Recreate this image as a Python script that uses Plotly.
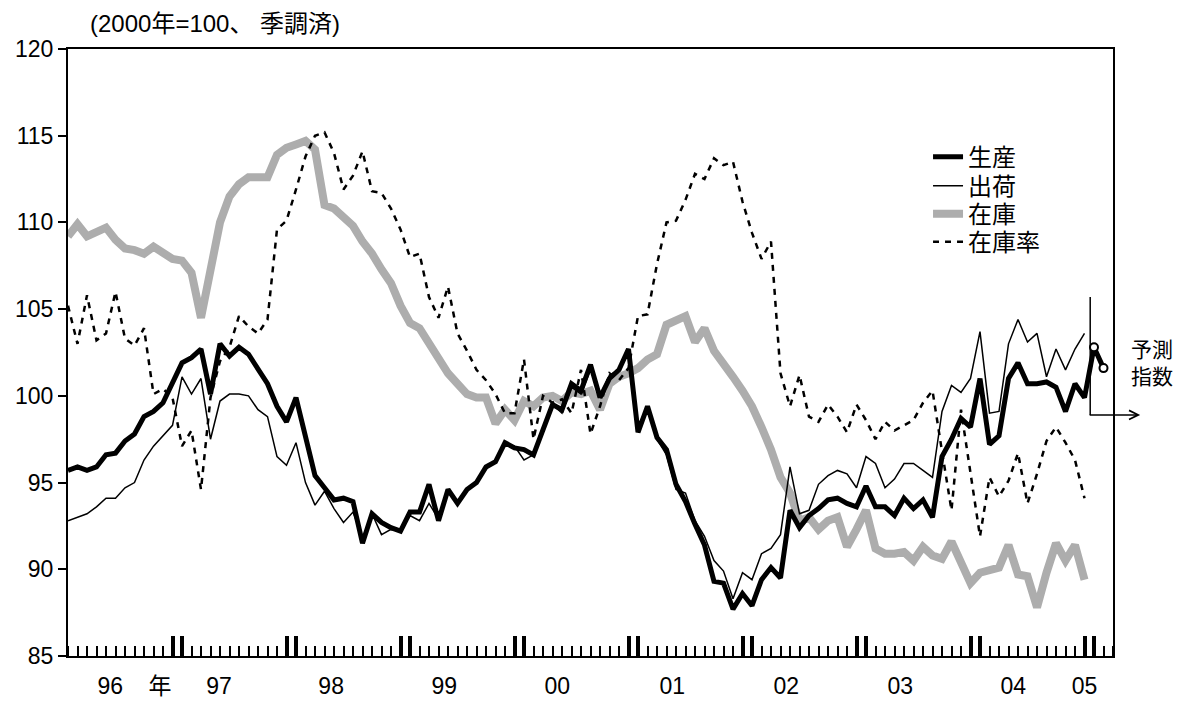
import plotly.graph_objects as go

# monthly series, Jan 1996 .. Dec 2004 (2000=100, seasonally adjusted)
production = [
    95.7, 95.9, 95.7, 95.9, 96.6, 96.7, 97.4, 97.8, 98.8, 99.1, 99.6, 100.7,
    101.9, 102.2, 102.7, 100.1, 103.0, 102.3, 102.8, 102.4, 101.6, 100.7, 99.4, 98.5,
    99.9, 97.6, 95.4, 94.7, 94.0, 94.1, 93.9, 91.5, 93.2, 92.7, 92.4, 92.2,
    93.3, 93.3, 94.9, 92.8, 94.6, 93.8, 94.6, 95.0, 95.9, 96.2, 97.3, 97.0,
    96.9, 96.6, 98.0, 99.5, 99.2, 100.7, 100.3, 101.8, 99.9, 101.0, 101.5, 102.7,
    97.9, 99.4, 97.6, 96.9, 94.9, 93.9, 92.6, 91.4, 89.3, 89.2, 87.7, 88.6,
    87.9, 89.4, 90.1, 89.5, 93.4, 92.4, 93.1, 93.5, 94.0, 94.1, 93.8, 93.6,
    94.8, 93.6, 93.6, 93.1, 94.1, 93.5, 94.0, 93.0, 96.5, 97.5, 98.7, 98.2,
    101.0, 97.2, 97.7, 101.0, 101.9, 100.7, 100.7, 100.8, 100.5, 99.1, 100.7, 99.9,
]
forecast = [102.8, 101.6]  # 予測指数 (Jan, Feb 2005)

shipments = [
    92.8, 93.0, 93.2, 93.6, 94.1, 94.1, 94.7, 95.0, 96.3, 97.1, 97.7, 98.3,
    101.1, 100.1, 101.0, 97.5, 99.7, 100.1, 100.1, 100.0, 99.2, 98.8, 96.5, 96.0,
    97.3, 95.0, 93.7, 94.5, 93.5, 92.7, 93.3, 91.8, 93.2, 92.0, 92.3, 92.2,
    93.1, 92.8, 93.8, 92.9, 94.4, 93.9, 94.6, 95.1, 95.8, 96.3, 97.3, 97.1,
    96.3, 96.6, 98.0, 99.5, 99.0, 100.5, 100.1, 101.5, 100.0, 101.2, 101.5, 102.7,
    98.3, 99.3, 97.5, 96.6, 94.6, 94.4, 92.8, 91.9, 90.5, 89.9, 88.3, 89.8,
    89.4, 90.9, 91.2, 92.0, 95.9, 93.2, 93.4, 94.9, 95.4, 95.7, 95.5, 94.7,
    96.5, 96.1, 94.7, 95.2, 96.1, 96.1, 95.7, 95.3, 99.1, 100.6, 100.2, 101.0,
    103.7, 99.0, 99.1, 103.0, 104.4, 103.1, 103.6, 101.1, 102.7, 101.5, 102.7, 103.6,
]

inventory = [
    109.2, 109.9, 109.2, 109.5, 109.7, 109.0, 108.5, 108.4, 108.2, 108.6, 108.2, 107.9,
    107.8, 107.1, 104.5, 107.3, 110.0, 111.5, 112.2, 112.6, 112.6, 112.6, 113.9, 114.3,
    114.5, 114.7, 114.2, 111.0, 110.8, 110.3, 109.8, 108.9, 108.2, 107.3, 106.5, 105.2,
    104.2, 103.9, 103.0, 102.0, 101.3, 100.7, 100.1, 99.9, 99.9, 98.4, 99.2, 98.6,
    99.7, 99.4, 99.9, 100.0, 99.7, 100.2, 100.1, 100.3, 99.2, 100.7, 101.1, 101.3,
    101.6, 102.1, 102.4, 104.1, 104.4, 104.6, 103.1, 103.9, 102.6, 101.9, 101.1, 100.3,
    99.4, 98.2, 96.9, 95.3, 94.4, 92.8, 93.0, 92.3, 92.8, 93.0, 91.3, 92.3,
    93.4, 91.2, 90.9, 90.9, 91.0, 90.5, 91.3, 90.8, 90.6, 91.6, 90.4, 89.2,
    89.8, 90.0, 90.1, 91.4, 89.7, 89.6, 87.8, 89.8, 91.5, 90.5, 91.4, 89.4,
]

inventory_ratio = [
    105.2, 103.0, 105.8, 103.2, 103.6, 106.0, 103.3, 102.9, 103.9, 100.1, 100.4, 99.9,
    97.1, 98.0, 94.6, 99.9, 102.0, 102.8, 104.6, 104.0, 103.6, 104.4, 109.6, 110.1,
    111.9, 113.8, 115.0, 115.2, 114.0, 111.9, 112.7, 114.1, 111.8, 111.7, 110.8, 109.6,
    108.0, 108.2, 105.7, 104.5, 106.3, 103.6, 102.6, 101.5, 100.9, 100.1, 99.0, 99.0,
    102.1, 97.5, 100.0, 99.6, 99.8, 99.0, 101.5, 97.8, 99.4, 101.3, 100.9, 101.6,
    104.6, 104.7, 107.6, 110.0, 110.1, 111.3, 112.8, 112.5, 113.7, 113.3, 113.5, 111.2,
    109.4, 107.9, 108.9, 101.3, 99.4, 101.2, 98.8, 98.5, 99.5, 98.8, 97.9, 99.5,
    98.6, 97.5, 98.5, 98.0, 98.3, 98.6, 99.6, 100.3, 96.8, 93.4, 99.2, 95.4,
    91.9, 95.3, 94.2, 95.1, 96.7, 93.8, 95.5, 97.4, 98.2, 97.3, 96.3, 94.1,
]

months = list(range(len(production)))            # 0 = Jan 1996
forecast_months = [len(production), len(production) + 1]
axis_end = 110

# year labels under the axis and the doubled Dec/Jan ticks
year_label_pos = [7.0, 15.9, 27.7, 39.6, 51.5, 63.6, 75.6, 87.6, 99.5, 107.0]
year_labels = ["96\u00a0\u00a0\u00a0\u00a0年", "97", "98", "99", "00", "01", "02", "03", "04", "05"]
year_ticks = [11, 12, 23, 24, 35, 36, 47, 48, 59, 60, 71, 72, 83, 84, 95, 96, 107, 108]

FONT = "Liberation Sans, Arial, Noto Sans CJK JP, sans-serif"

fig = go.Figure()

fig.add_trace(go.Scatter(
    x=months, y=inventory, name="在庫", mode="lines", legend="legend3",
    line=dict(color="#adadad", width=8),
))
fig.add_trace(go.Scatter(
    x=months, y=inventory_ratio, name="在庫率", mode="lines", legend="legend4",
    line=dict(color="black", width=2.5, dash="6px,6px"),
))
fig.add_trace(go.Scatter(
    x=months, y=shipments, name="出荷", mode="lines", legend="legend2",
    line=dict(color="black", width=1.5),
))
fig.add_trace(go.Scatter(
    x=months + forecast_months, y=production + forecast, name="生産", mode="lines",
    legend="legend", line=dict(color="black", width=5),
))
fig.add_trace(go.Scatter(
    x=forecast_months, y=forecast, mode="markers", showlegend=False,
    marker=dict(symbol="circle", size=8, color="white", line=dict(color="black", width=2)),
))
# anchor trace for the overlay axis carrying the thick year ticks
fig.add_trace(go.Scatter(
    x=[months[0], axis_end], y=[None, None], xaxis="x2", mode="lines",
    showlegend=False, hoverinfo="skip",
))

# 予測指数 marker: vertical line plus arrow to the right
fig.add_shape(
    type="line", xref="x", yref="y",
    x0=107.6, x1=107.6, y0=105.7, y1=98.9,
    line=dict(color="black", width=1.5),
)
fig.add_annotation(
    x=1.026, xref="paper", y=98.9, yref="y",
    ax=-52, ay=0, text="", showarrow=True,
    arrowhead=5, arrowsize=1.2, arrowwidth=1.5, arrowcolor="black",
)
fig.add_annotation(
    x=1.037, xref="paper", y=101.9, yref="y",
    xanchor="center", yanchor="middle",
    text="予測<br>指数", showarrow=False,
    font=dict(size=21, color="black", family=FONT),
)
fig.add_annotation(
    x=20 / 1045, xref="paper", y=1.0, yref="paper",
    xanchor="left", yanchor="bottom", yshift=10,
    text="(2000年=100、 季調済)", showarrow=False,
    font=dict(size=24, color="black", family=FONT),
)

# one legend per series so the rows keep the reference spacing
legend_style = dict(x=0.823, xanchor="left", yanchor="middle",
                    bgcolor="rgba(0,0,0,0)", font=dict(size=24))

# the page body adds an 8px offset, so the figure is 8px smaller than the window
fig.update_layout(
    width=1176, height=694,
    margin=dict(l=60, r=71, t=41, b=46),
    plot_bgcolor="white", paper_bgcolor="white",
    font=dict(family=FONT, color="black"),
    showlegend=True,
    legend=dict(y=0.822, **legend_style),
    legend2=dict(y=0.774, **legend_style),
    legend3=dict(y=0.728, **legend_style),
    legend4=dict(y=0.682, **legend_style),
    xaxis=dict(
        range=[0, axis_end], showgrid=False, zeroline=False, automargin=False,
        showline=True, linecolor="black", linewidth=2, mirror=True,
        tickmode="array", tickvals=year_label_pos, ticktext=year_labels,
        ticks="", tickfont=dict(size=23), ticklabelstandoff=8,
        minor=dict(ticks="inside", tickmode="linear", tick0=0, dtick=1,
                   ticklen=10, tickwidth=1.5, tickcolor="black", showgrid=False),
    ),
    xaxis2=dict(
        overlaying="x", anchor="y", side="bottom", range=[0, axis_end],
        showgrid=False, zeroline=False, showline=False, automargin=False,
        tickmode="array", tickvals=year_ticks, showticklabels=False,
        ticks="inside", ticklen=20, tickwidth=3.5, tickcolor="black",
    ),
    yaxis=dict(
        range=[85, 120], tick0=85, dtick=5, showgrid=False, zeroline=False,
        showline=True, linecolor="black", linewidth=2, mirror=True, automargin=False,
        ticks="outside", ticklen=8, tickwidth=1.5, tickcolor="black",
        tickfont=dict(size=23),
    ),
)

fig.write_html("out.html")
